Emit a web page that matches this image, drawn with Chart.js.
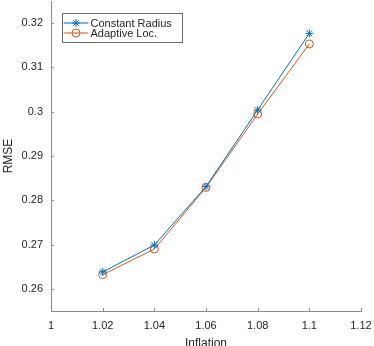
<!DOCTYPE html>
<html>
<head>
<meta charset="utf-8">
<script src="https://cdn.jsdelivr.net/npm/chart.js@4"></script>
<style>
  html, body { margin: 0; padding: 0; background: #fff; }
  #wrap { width: 374px; height: 346px; }
</style>
</head>
<body>
<div id="wrap"><canvas id="rmseChart" width="374" height="346"></canvas></div>
<script>
  // data
  const inflation = [1.02, 1.04, 1.06, 1.08, 1.1];
  const constantRadius = [0.2638, 0.2699, 0.2831, 0.3004, 0.3177];
  const adaptiveLoc = [0.2632, 0.2690, 0.2829, 0.2995, 0.3153];
  const xTicks = [1, 1.02, 1.04, 1.06, 1.08, 1.1, 1.12];
  const yTicks = [0.26, 0.27, 0.28, 0.29, 0.3, 0.31, 0.32];

  const blue = '#0072BD';
  const orange = '#D95319';
  const axisColor = '#8c8c8c';
  const textColor = '#262626';

  const fmt = v => String(Number(v.toFixed(3)));

  // inward tick marks + legend box, matlab style
  const matlabBits = {
    id: 'matlabBits',
    afterDraw(chart) {
      const ctx = chart.ctx;
      const xs = chart.scales.x, ys = chart.scales.y;
      const a = chart.chartArea;
      ctx.save();
      ctx.strokeStyle = axisColor;
      ctx.lineWidth = 1;
      ctx.beginPath();
      xTicks.forEach(v => {
        const px = Math.round(xs.getPixelForValue(v)) + 0.5;
        ctx.moveTo(px, a.bottom);
        ctx.lineTo(px, a.bottom - 3);
      });
      yTicks.forEach(v => {
        const py = Math.round(ys.getPixelForValue(v)) + 0.5;
        ctx.moveTo(a.left, py);
        ctx.lineTo(a.left + 3, py);
      });
      ctx.stroke();

      // legend
      const bx = 62.5, by = 13.5, bw = 120, bh = 29;
      ctx.fillStyle = '#fff';
      ctx.fillRect(bx, by, bw, bh);
      ctx.strokeStyle = '#6e6e6e';
      ctx.strokeRect(bx, by, bw, bh);
      ctx.font = '11px "Liberation Sans", Arial, sans-serif';
      ctx.textBaseline = 'middle';
      chart.data.datasets.forEach((ds, i) => {
        const y = by + 9.5 + i * 10;
        ctx.strokeStyle = ds.borderColor;
        ctx.lineWidth = 1;
        ctx.beginPath();
        ctx.moveTo(bx + 1, y);
        ctx.lineTo(bx + 26, y);
        ctx.stroke();
        ctx.fillStyle = 'rgba(0,0,0,0)';
        Chart.helpers.drawPoint(ctx, {
          pointStyle: ds.pointStyle, radius: ds.pointRadius, borderWidth: 1
        }, bx + 13.5, y);
        ctx.fillStyle = textColor;
        ctx.fillText(ds.label, bx + 28, y + 0.5);
      });
      ctx.restore();
    }
  };

  new Chart(document.getElementById('rmseChart'), {
    type: 'line',
    data: {
      datasets: [
        { label: 'Constant Radius', data: inflation.map((x, i) => ({ x, y: constantRadius[i] })),
          borderColor: blue, backgroundColor: blue, borderWidth: 1,
          pointStyle: 'star', pointRadius: 4, pointBorderWidth: 1, pointBackgroundColor: 'transparent' },
        { label: 'Adaptive Loc.', data: inflation.map((x, i) => ({ x, y: adaptiveLoc[i] })),
          borderColor: orange, backgroundColor: orange, borderWidth: 1,
          pointStyle: 'circle', pointRadius: 4, pointBorderWidth: 1, pointBackgroundColor: 'transparent' }
      ]
    },
    options: {
      responsive: false,
      animation: false,
      layout: { autoPadding: false, padding: { left: 0, right: 13, top: 1, bottom: 0 } },
      plugins: { legend: { display: false }, tooltip: { enabled: false } },
      scales: {
        x: {
          type: 'linear', min: 1, max: 1.12,
          afterBuildTicks: s => { s.ticks = xTicks.map(v => ({ value: v })); },
          afterFit: s => { s.height = 35; s.paddingLeft = 0; s.paddingRight = 0; },
          grid: { display: false, drawTicks: false },
          border: { color: axisColor, width: 1 },
          ticks: { color: textColor, padding: 8, maxRotation: 0, autoSkip: false,
                   font: { family: '"Liberation Sans", Arial, sans-serif', size: 11 },
                   callback: v => fmt(v) },
          title: { display: true, text: 'Inflation', color: textColor, padding: { top: 4, bottom: -4 },
                   font: { family: '"Liberation Sans", Arial, sans-serif', size: 12, lineHeight: 1 } }
        },
        y: {
          min: 0.255, max: 0.325,
          afterBuildTicks: s => { s.ticks = yTicks.map(v => ({ value: v })); },
          afterFit: s => { s.width = 51; s.paddingTop = 0; s.paddingBottom = 0; },
          grid: { display: false, drawTicks: false },
          border: { color: axisColor, width: 1 },
          ticks: { color: textColor, padding: 8, autoSkip: false,
                   font: { family: '"Liberation Sans", Arial, sans-serif', size: 11 },
                   callback: v => fmt(v) },
          title: { display: true, text: 'RMSE', color: textColor, padding: { top: 1, bottom: 0 },
                   font: { family: '"Liberation Sans", Arial, sans-serif', size: 12 } }
        }
      }
    },
    plugins: [matlabBits]
  });
</script>
</body>
</html>
